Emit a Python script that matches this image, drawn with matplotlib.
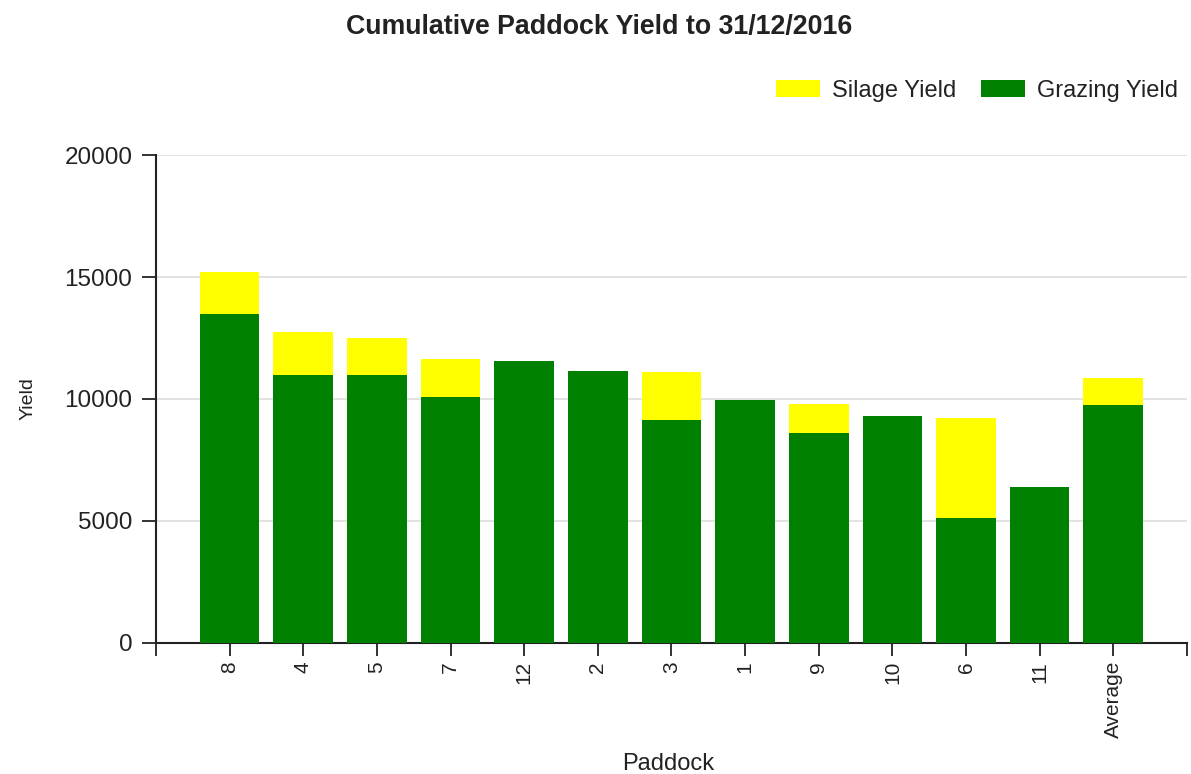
import matplotlib
matplotlib.use("Agg")
import matplotlib.pyplot as plt
import numpy as np

paddocks = ["8", "4", "5", "7", "12", "2", "3", "1", "9", "10", "6", "11", "Average"]
grazing = [13500, 11000, 11000, 10100, 11550, 11150, 9130, 9950, 8600, 9300, 5120, 6400, 9750]
silage = [1700, 1750, 1500, 1550, 0, 0, 1970, 0, 1200, 0, 4100, 0, 1100]

plt.rcParams['font.family'] = ['Liberation Sans', 'DejaVu Sans']

fig = plt.figure(figsize=(11.91, 7.74), dpi=100)
ax = fig.add_axes([0.131, 0.1693, 0.8656, 0.6304])

x = np.arange(len(paddocks))
ax.bar(x, grazing, width=0.81, color="#008000", label="Grazing Yield", zorder=3)
ax.bar(x, silage, width=0.81, bottom=grazing, color="#FFFF00", label="Silage Yield", zorder=3)

ax.set_xlim(-1, 13)
ax.set_ylim(0, 20000)
ax.set_yticks([0, 5000, 10000, 15000, 20000])
ax.set_yticklabels(["0", "5000", "10000", "15000", "20000"], fontsize=17.5, color="#222222")
ax.yaxis.grid(True, color="#dddddd", linewidth=1.2, zorder=0)
ax.set_axisbelow(True)

ax.set_xticks(list(x))
ax.set_xticklabels(paddocks, rotation=90, fontsize=15, color="#222222")
ax.set_xticks([-1, 13], minor=True)
ax.tick_params(axis='x', which='both', direction='out', length=9, width=1.3, colors="#222222", pad=4)
ax.tick_params(axis='y', direction='out', length=10, width=1.3, colors="#222222", pad=7)

for s in ["top", "right"]:
    ax.spines[s].set_visible(False)
for s in ["left", "bottom"]:
    ax.spines[s].set_linewidth(1.5)
    ax.spines[s].set_color("#222222")

ax.set_ylabel("Yield", fontsize=14, color="#222222")
ax.yaxis.set_label_coords(-0.116, 0.5)
ax.set_xlabel("Paddock", fontsize=17, color="#222222")
ax.xaxis.set_label_coords(0.497, -0.225)

fig.text(0.503, 0.965, "Cumulative Paddock Yield to 31/12/2016", ha="center", va="center",
         fontsize=19.3, fontweight="bold", color="#222222")

handles, labels = ax.get_legend_handles_labels()
leg = fig.legend(handles[::-1], labels[::-1], loc="center right", bbox_to_anchor=(0.989, 0.883),
                 ncol=2, frameon=False, fontsize=17, handlelength=1.86, handleheight=0.72,
                 columnspacing=1.06, handletextpad=0.5, borderpad=0.0, borderaxespad=0.0)
for t in leg.get_texts():
    t.set_color("#222222")

fig.savefig("out.png", dpi=100)
